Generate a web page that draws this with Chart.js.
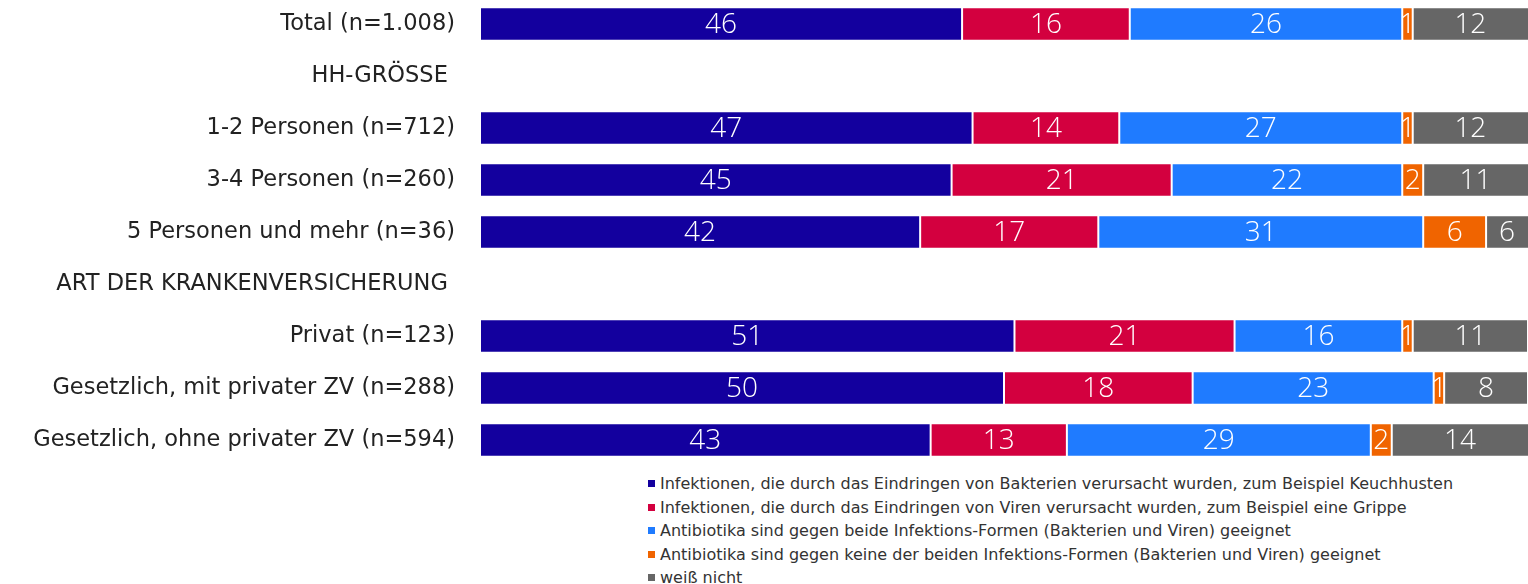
<!DOCTYPE html>
<html lang="de">
<head>
<meta charset="utf-8">
<script src="https://cdn.jsdelivr.net/npm/chart.js@4/dist/chart.umd.min.js"></script>
<style>
  body { margin: 0; background: #fff; font-family: "DejaVu Sans", sans-serif; }
  #wrap { position: absolute; left: 0; top: -2px; width: 1528px; height: 468px; }
  #legende { position: absolute; left: 648px; top: 472px; font-size: 16px; color: #333; }
  #legende div { height: 23.5px; line-height: 23.5px; white-space: nowrap; }
  #legende span { display: inline-block; width: 7px; height: 7px; margin-right: 5px; vertical-align: 2px; }
</style>
</head>
<body>
<div id="wrap"><canvas id="chart"></canvas></div>
<div id="legende"></div>
<script>
const kategorien = [
  'Total (n=1.008)',
  'HH-GRÖSSE ',
  '1-2 Personen (n=712)',
  '3-4 Personen (n=260)',
  '5 Personen und mehr (n=36)',
  'ART DER KRANKENVERSICHERUNG ',
  'Privat (n=123)',
  'Gesetzlich, mit privater ZV (n=288)',
  'Gesetzlich, ohne privater ZV (n=594)'
];
const serienNamen = [
  'Infektionen, die durch das Eindringen von Bakterien verursacht wurden, zum Beispiel Keuchhusten',
  'Infektionen, die durch das Eindringen von Viren verursacht wurden, zum Beispiel eine Grippe',
  'Antibiotika sind gegen beide Infektions-Formen (Bakterien und Viren) geeignet',
  'Antibiotika sind gegen keine der beiden Infektions-Formen (Bakterien und Viren) geeignet',
  'weiß nicht'
];
const bakterien  = [46, null, 47, 45, 42, null, 51, 50, 43];
const viren      = [16, null, 14, 21, 17, null, 21, 18, 13];
const beide      = [26, null, 27, 22, 31, null, 16, 23, 29];
const keine      = [ 1, null,  1,  2,  6, null,  1,  1,  2];
const weissNicht = [12, null, 12, 11,  6, null, 11,  8, 14];
const farben = ['#13009E', '#D3003F', '#1F7BFF', '#F06400', '#666666'];

const werte = [bakterien, viren, beide, keine, weissNicht];

// Werte mittig in die Balken schreiben
const wertLabels = {
  id: 'wertLabels',
  afterDatasetsDraw(chart) {
    const ctx = chart.ctx;
    const area = chart.chartArea;
    ctx.save();
    ctx.fillStyle = '#fff';
    ctx.font = '300 28px "Open Sans", sans-serif';
    ctx.textAlign = 'center';
    ctx.textBaseline = 'middle';
    chart.data.datasets.forEach((ds, i) => {
      chart.getDatasetMeta(i).data.forEach((bar, j) => {
        const v = ds.data[j];
        if (v == null) return;
        const rechts = Math.min(bar.x, area.right);
        const links = Math.max(bar.base, area.left);
        ctx.fillText(v, (links + rechts) / 2, bar.y + 1);
      });
    });
    ctx.restore();
  }
};

const chart = new Chart(document.getElementById('chart'), {
  type: 'bar',
  data: {
    labels: kategorien,
    datasets: werte.map((d, i) => ({
      label: serienNamen[i],
      data: d,
      backgroundColor: farben[i],
      borderColor: '#fff',
      borderWidth: 1,
      borderSkipped: false,
      categoryPercentage: 1,
      barPercentage: 0.64
    }))
  },
  options: {
    indexAxis: 'y',
    responsive: true,
    maintainAspectRatio: false,
    animation: false,
    layout: { padding: 0 },
    scales: {
      x: { stacked: true, min: 0, max: 100, display: false },
      y: {
        stacked: true,
        grid: { display: false, drawTicks: false },
        border: { display: false },
        afterFit: s => {
          s.width = 480;
          s.paddingTop = 0;
          s.paddingBottom = 0;
        },
        ticks: {
          padding: 25,
          color: '#222',
          font: { family: '"DejaVu Sans", sans-serif', size: 22.5 }
        }
      }
    },
    plugins: {
      legend: { display: false },
      tooltip: { enabled: false }
    }
  },
  plugins: [wertLabels]
});

// Legende unterhalb als Liste
document.getElementById('legende').innerHTML = chart.data.datasets
  .map(ds => `<div><span style="background:${ds.backgroundColor}"></span>${ds.label}</div>`)
  .join('');
</script>
</body>
</html>
